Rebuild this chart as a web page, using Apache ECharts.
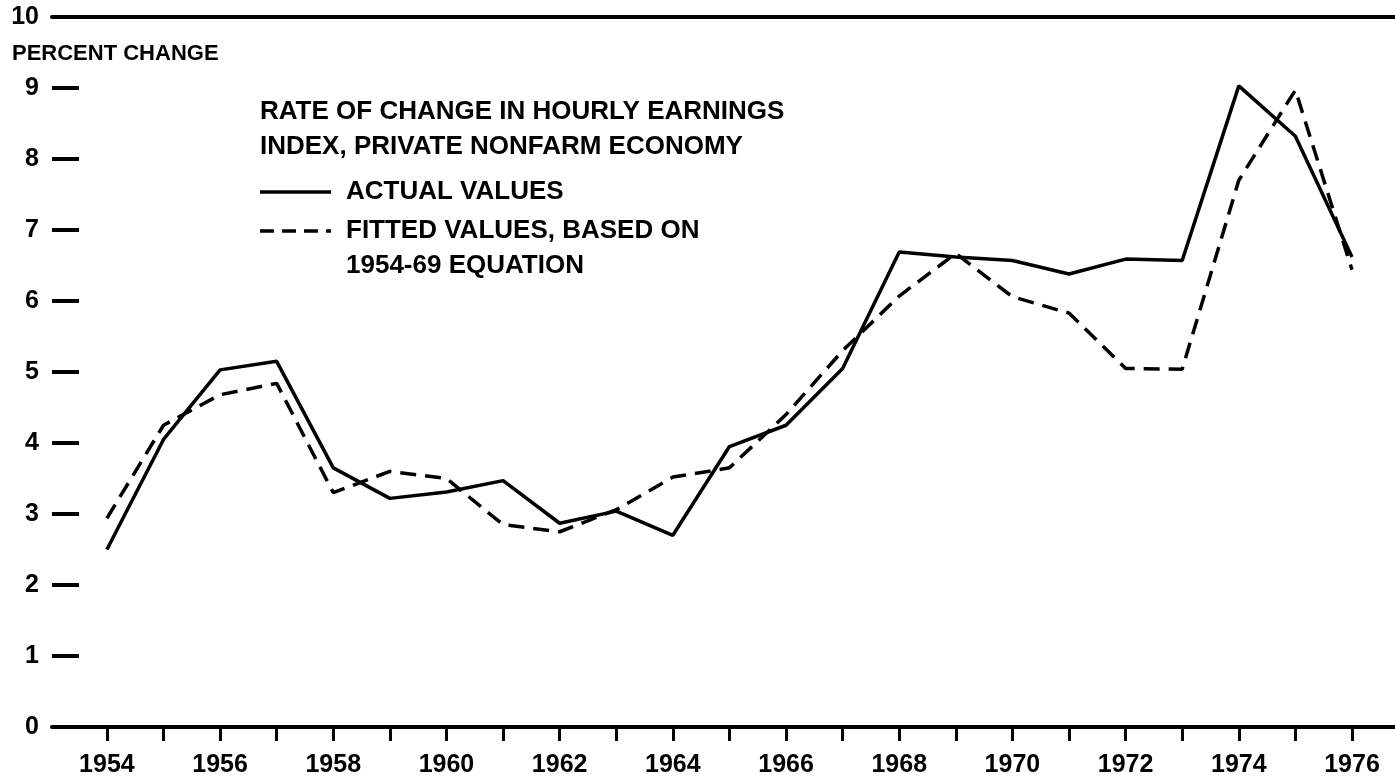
<!DOCTYPE html>
<html>
<head>
<meta charset="utf-8">
<script src="https://cdn.jsdelivr.net/npm/echarts@6/dist/echarts.min.js"></script>
<style>
  html, body { margin: 0; padding: 0; background: #fff; }
  #chart { width: 1395px; height: 779px; }
</style>
</head>
<body>
<div id="chart"></div>
<script>
// ========================================
// DATA
// ========================================
var years = [1954, 1955, 1956, 1957, 1958, 1959, 1960, 1961, 1962, 1963, 1964, 1965,
             1966, 1967, 1968, 1969, 1970, 1971, 1972, 1973, 1974, 1975, 1976];
var actualValues = [2.5, 4.05, 5.03, 5.15, 3.65, 3.22, 3.31, 3.47, 2.87, 3.04, 2.7, 3.95,
                    4.25, 5.05, 6.69, 6.62, 6.57, 6.38, 6.59, 6.57, 9.03, 8.32, 6.62];
var fittedValues = [2.94, 4.25, 4.68, 4.84, 3.3, 3.6, 3.5, 2.85, 2.75, 3.06, 3.52, 3.65,
                    4.4, 5.3, 6.07, 6.67, 6.06, 5.83, 5.05, 5.04, 7.7, 8.97, 6.44];
var labelYears = [1954, 1956, 1958, 1960, 1962, 1964, 1966, 1968, 1970, 1972, 1974, 1976];

var titleLines = ['RATE OF CHANGE IN HOURLY EARNINGS', 'INDEX, PRIVATE NONFARM ECONOMY'];
var legendActual = 'ACTUAL VALUES';
var legendFitted = ['FITTED VALUES, BASED ON', '1954-69 EQUATION'];

// ========================================
// CHART
// ========================================
function pairs(values) {
  return years.map(function (y, i) { return [y, values[i]]; });
}

var FONT = '"Liberation Sans", Arial, Helvetica, sans-serif';
var xMin = 1953.03;
var xMax = 1976.76;

var chart = echarts.init(document.getElementById('chart'));

// plain bold text element for the legend block
function textEl(str, x, y, size) {
  return {
    type: 'text', left: x, top: y,
    style: { text: str, fill: '#000', font: 'bold ' + size + 'px ' + FONT }
  };
}

chart.setOption({
  backgroundColor: '#fff',
  animation: false,
  grid: { left: 52, right: 0, top: 17, bottom: 52 },
  xAxis: [{
    type: 'value', min: xMin, max: xMax,
    splitLine: { show: false },
    axisLine: { show: true, lineStyle: { color: '#000', width: 4 } },
    axisTick: { show: true, length: 14, lineStyle: { color: '#000', width: 3 }, customValues: years },
    axisLabel: {
      customValues: labelYears, margin: 26,
      color: '#000', fontFamily: FONT, fontWeight: 'bold', fontSize: 25,
      formatter: function (v) { return String(Math.round(v)); }
    }
  }, {
    // top rule at 10
    type: 'value', position: 'top', min: xMin, max: xMax,
    splitLine: { show: false },
    axisLine: { show: true, lineStyle: { color: '#000', width: 4 } },
    axisTick: { show: false },
    axisLabel: { show: false }
  }],
  yAxis: {
    type: 'value', min: 0, max: 10, interval: 1,
    splitLine: { show: false },
    axisLine: { show: false },
    axisTick: { show: true, inside: true, length: 27, lineStyle: { color: '#000', width: 4 } },
    axisLabel: { margin: 13, color: '#000', fontFamily: FONT, fontWeight: 'bold', fontSize: 25 }
  },
  series: [{
    name: 'Actual', type: 'line', data: pairs(actualValues),
    symbol: 'none', lineStyle: { color: '#000', width: 3.5 }
  }, {
    name: 'Fitted', type: 'line', data: pairs(fittedValues),
    symbol: 'none', lineStyle: { color: '#000', width: 3.5, type: [16, 9] }
  }],
  graphic: [
    textEl('PERCENT CHANGE', 12, 43, 22),
    textEl(titleLines[0], 260, 99, 26),
    textEl(titleLines[1], 260, 134, 26),
    { type: 'line', shape: { x1: 260, y1: 192, x2: 331, y2: 192 },
      style: { stroke: '#000', lineWidth: 3.5 } },
    textEl(legendActual, 346, 179, 26),
    { type: 'line', shape: { x1: 260, y1: 231, x2: 331, y2: 231 },
      style: { stroke: '#000', lineWidth: 3.5, lineDash: [14, 8] } },
    textEl(legendFitted[0], 346, 218, 26),
    textEl(legendFitted[1], 346, 253, 26)
  ]
});
</script>
</body>
</html>
